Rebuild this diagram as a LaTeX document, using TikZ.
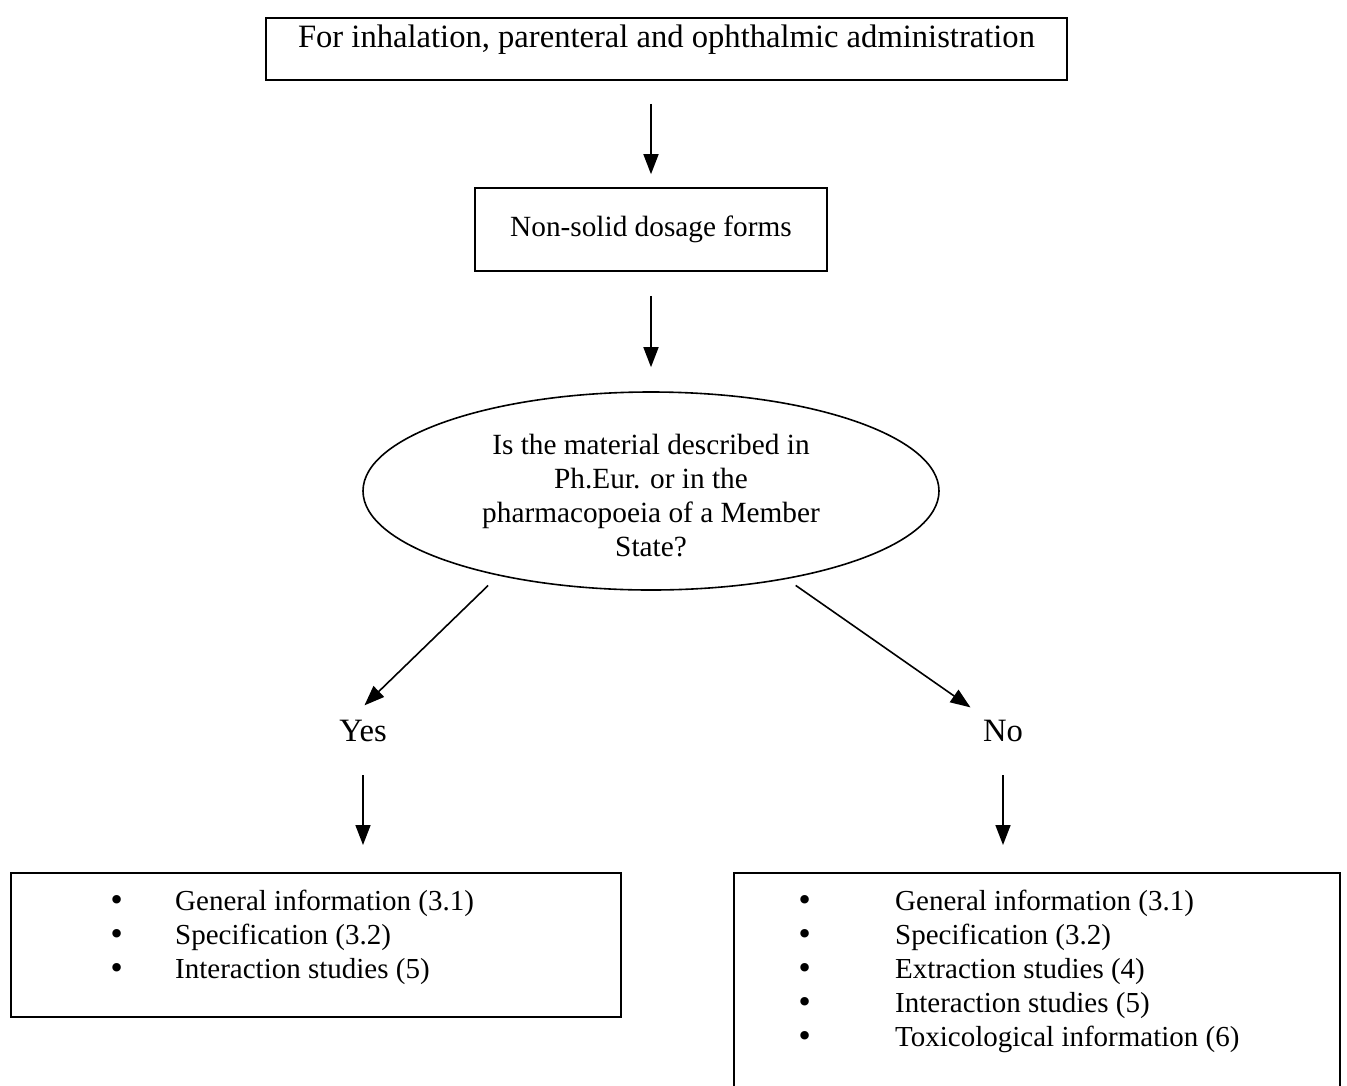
\documentclass[tikz,border=0pt]{standalone}
\usepackage{fontspec}
\setmainfont{Liberation Serif}
\newfontfamily\bulfont{DejaVu Sans}
\usetikzlibrary{shapes.geometric,arrows.meta}
\newcommand{\bigbul}{{\bulfont •}}
\begin{document}
\begin{tikzpicture}[x=1pt,y=-1pt,
  box/.style={draw,line width=1.6pt,rectangle,inner sep=0pt},
  txt/.style={inner sep=0pt,font=\fontsize{29.3}{34}\selectfont},
  bigtxt/.style={inner sep=0pt,font=\fontsize{32.6}{34}\selectfont},
  arr/.style={-{Triangle[length=20pt,width=15pt]},line width=1.6pt}]
\useasboundingbox (0,0) rectangle (1347,1085);
\clip (0,0) rectangle (1347,1085);
\node[box,bigtxt,minimum width=801pt,text height=29pt,text depth=33pt] (top) at (666.5,49) {For inhalation, parenteral and ophthalmic administration};
\node[box,txt,minimum width=352pt,text height=48pt,text depth=35pt] (form) at (651,229.5) {Non-solid dosage forms};
\node[draw,ellipse,line width=1.6pt,minimum width=576pt,minimum height=198pt,txt,align=center] (q) at (651,491) {\raisebox{-8pt}[\height][\depth]{\begin{tabular}{@{}c@{}}Is the material described in\\Ph.Eur. or in the\\pharmacopoeia of a Member\\State?\end{tabular}}};
\node[bigtxt] (yes) at (363,731) {Yes};
\node[bigtxt] (no) at (1003,731) {No};
\node[box,minimum width=610pt,minimum height=144pt,anchor=north west] (ybox) at (10,872) {};
\node[box,minimum width=606pt,minimum height=240pt,anchor=north west] (nbox) at (733,872) {};
\node[txt,font=\fontsize{29}{34}\selectfont,align=left,anchor=north west] (ylist) at (108.5,890) {\makebox[66.5pt][l]{\bigbul}General information (3.1)\\\makebox[66.5pt][l]{\bigbul}Specification (3.2)\\\makebox[66.5pt][l]{\bigbul}Interaction studies (5)};
\node[txt,font=\fontsize{29}{34}\selectfont,align=left,anchor=north west] (nlist) at (796.5,890) {\makebox[98.5pt][l]{\bigbul}General information (3.1)\\\makebox[98.5pt][l]{\bigbul}Specification (3.2)\\\makebox[98.5pt][l]{\bigbul}Extraction studies (4)\\\makebox[98.5pt][l]{\bigbul}Interaction studies (5)\\\makebox[98.5pt][l]{\bigbul}Toxicological information (6)};
\draw[arr,shorten <=23pt,shorten >=13pt] (top.south -| form.north) -- (form.north);
\draw[arr,shorten <=24pt,shorten >=24pt] (form.south) -- (q.north);
\draw[arr,shorten <=14pt,shorten >=21pt] (q.209.4) -- ([xshift=-13.6pt]yes.north);
\draw[arr,shorten <=11pt,shorten >=22pt] (q.327) -- ([xshift=-14.5pt]no.north);
\draw[arr,shorten <=33pt,shorten >=27pt] (yes.south) -- (yes.south |- ybox.north);
\draw[arr,shorten <=33pt,shorten >=27pt] (no.south) -- (no.south |- nbox.north);
\end{tikzpicture}
\end{document}
